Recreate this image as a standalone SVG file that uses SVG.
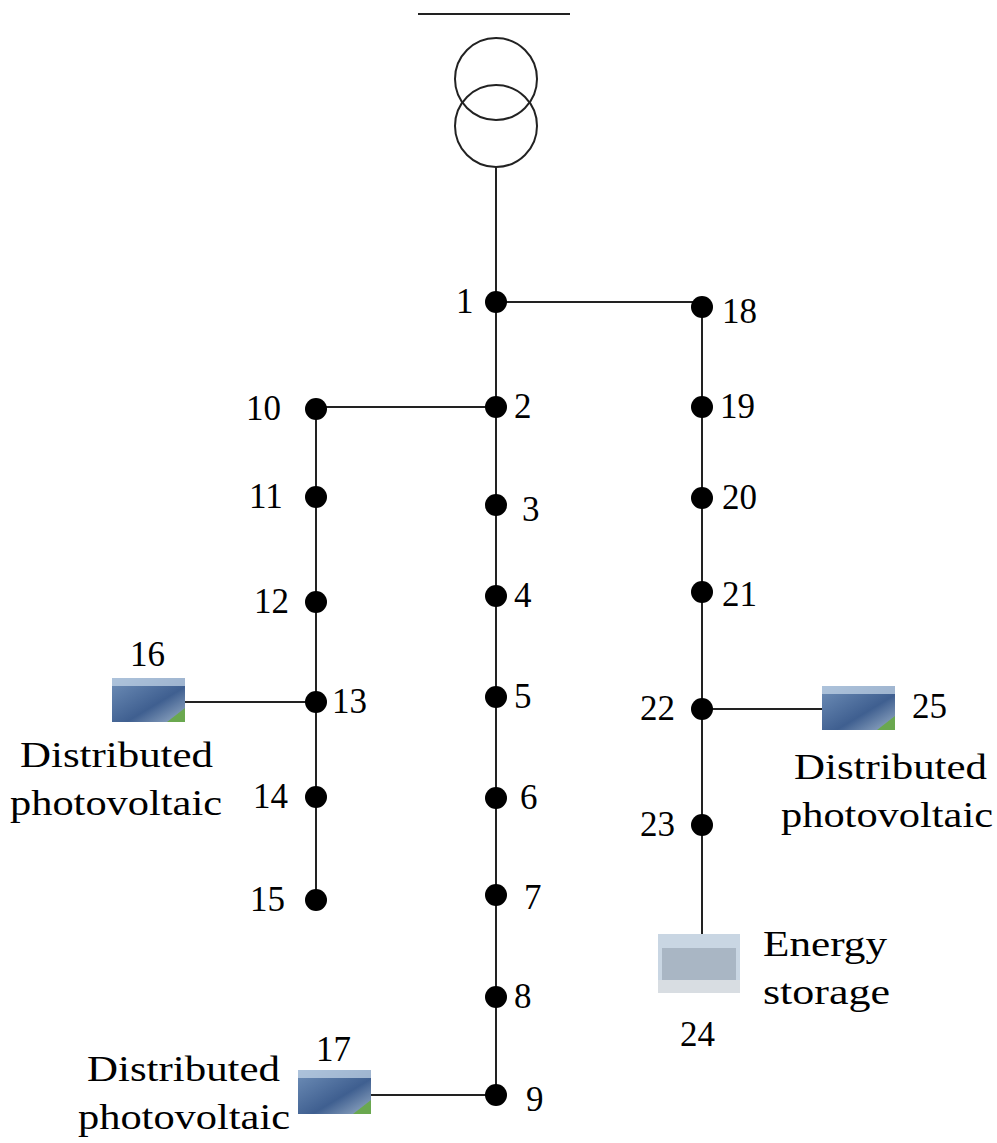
<svg xmlns="http://www.w3.org/2000/svg" width="997" height="1143" viewBox="0 0 997 1143">
<defs>
<linearGradient id="pv" x1="0" y1="0" x2="1" y2="1"><stop offset="0" stop-color="#6f8fb8"/><stop offset="0.6" stop-color="#3f5f90"/><stop offset="1" stop-color="#9bb0c8"/></linearGradient>
<g id="pvicon"><rect width="73" height="44" fill="url(#pv)"/><path d="M55 44 L73 30 L73 44Z" fill="#6aa84f"/><rect x="0" y="0" width="73" height="8" fill="#c8d8ea" opacity="0.7"/></g>
</defs>
<style>
.l{stroke:#222;stroke-width:2;fill:none}
.n{fill:#000}
text{font-family:"Liberation Serif",serif;font-size:35px;fill:#000}
</style>
<rect width="997" height="1143" fill="#fff"/>
<g id="connectors">
<line class="l" x1="418" y1="14" x2="570" y2="14"/>
<circle class="l" cx="496" cy="79" r="41"/>
<circle class="l" cx="496" cy="126" r="41"/>
<line class="l" x1="496" y1="167" x2="496" y2="1095"/>
<line class="l" x1="496" y1="302" x2="702" y2="302"/>
<line class="l" x1="702" y1="302" x2="702" y2="934"/>
<line class="l" x1="496" y1="407" x2="316" y2="407"/>
<line class="l" x1="316" y1="407" x2="316" y2="900"/>
<line class="l" x1="185" y1="702" x2="316" y2="702"/>
<line class="l" x1="702" y1="709" x2="822" y2="709"/>
<line class="l" x1="370" y1="1095" x2="496" y2="1095"/>
</g>
<g id="nodes">
<g id="n1"><circle class="n" cx="496" cy="302" r="11"/><text x="456" y="313">1</text></g>
<g id="n2"><circle class="n" cx="496" cy="407" r="11"/><text x="514" y="418">2</text></g>
<g id="n3"><circle class="n" cx="496" cy="505" r="11"/><text x="522" y="521">3</text></g>
<g id="n4"><circle class="n" cx="496" cy="596" r="11"/><text x="514" y="607">4</text></g>
<g id="n5"><circle class="n" cx="496" cy="697" r="11"/><text x="514" y="708">5</text></g>
<g id="n6"><circle class="n" cx="496" cy="798" r="11"/><text x="520" y="809">6</text></g>
<g id="n7"><circle class="n" cx="496" cy="895" r="11"/><text x="524" y="909">7</text></g>
<g id="n8"><circle class="n" cx="496" cy="997" r="11"/><text x="514" y="1008">8</text></g>
<g id="n9"><circle class="n" cx="496" cy="1095" r="11"/><text x="526" y="1111">9</text></g>
<g id="n10"><circle class="n" cx="316" cy="409" r="11"/><text x="246" y="420">10</text></g>
<g id="n11"><circle class="n" cx="316" cy="497" r="11"/><text x="249" y="508">11</text></g>
<g id="n12"><circle class="n" cx="316" cy="602" r="11"/><text x="254" y="613">12</text></g>
<g id="n13"><circle class="n" cx="316" cy="702" r="11"/><text x="332" y="713">13</text></g>
<g id="n14"><circle class="n" cx="316" cy="797" r="11"/><text x="253" y="808">14</text></g>
<g id="n15"><circle class="n" cx="316" cy="900" r="11"/><text x="250" y="911">15</text></g>
<g id="n16"><use href="#pvicon" x="112" y="678"/><text x="130" y="666">16</text><text x="20" y="767" textLength="193" lengthAdjust="spacingAndGlyphs">Distributed</text><text x="10" y="815" textLength="212" lengthAdjust="spacingAndGlyphs">photovoltaic</text></g>
<g id="n17"><use href="#pvicon" x="298" y="1070"/><text x="316" y="1061">17</text><text x="87" y="1081" textLength="193" lengthAdjust="spacingAndGlyphs">Distributed</text><text x="78" y="1129" textLength="212" lengthAdjust="spacingAndGlyphs">photovoltaic</text></g>
<g id="n18"><circle class="n" cx="702" cy="307" r="11"/><text x="722" y="323">18</text></g>
<g id="n19"><circle class="n" cx="702" cy="407" r="11"/><text x="720" y="418">19</text></g>
<g id="n20"><circle class="n" cx="702" cy="498" r="11"/><text x="722" y="509">20</text></g>
<g id="n21"><circle class="n" cx="702" cy="592" r="11"/><text x="722" y="606">21</text></g>
<g id="n22"><circle class="n" cx="702" cy="709" r="11"/><text x="640" y="720">22</text></g>
<g id="n23"><circle class="n" cx="702" cy="825" r="11"/><text x="640" y="836">23</text></g>
<g id="n24"><rect x="658" y="934" width="82" height="59" fill="#c9d6e3"/><rect x="662" y="948" width="74" height="42" fill="#a9b6c4"/><rect x="658" y="980" width="82" height="13" fill="#d8dde2"/><text x="763" y="956" textLength="124" lengthAdjust="spacingAndGlyphs">Energy</text><text x="763" y="1004" textLength="127" lengthAdjust="spacingAndGlyphs">storage</text><text x="680" y="1046">24</text></g>
<g id="n25"><use href="#pvicon" x="822" y="686"/><text x="912" y="718">25</text><text x="794" y="779" textLength="193" lengthAdjust="spacingAndGlyphs">Distributed</text><text x="781" y="827" textLength="212" lengthAdjust="spacingAndGlyphs">photovoltaic</text></g>
</g>
</svg>
